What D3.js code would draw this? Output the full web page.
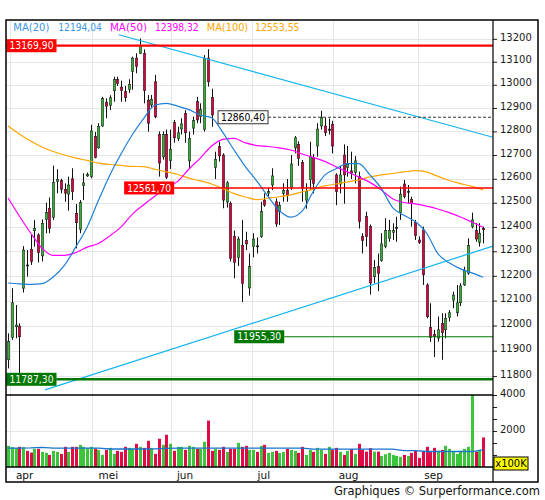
<!DOCTYPE html>
<html>
<head>
<meta charset="utf-8">
<script src="https://cdn.jsdelivr.net/npm/d3@7"></script>
<style>
  body { margin: 0; background: #fff; }
  svg { display: block; }
  text { font-family: "DejaVu Sans", Verdana, sans-serif; }
</style>
</head>
<body>
<svg width="545" height="500"></svg>
<script>
// daily candles (index 0 = first visible session)
const opens = [11864,11953,11995,11998,12150,12244,12308,12384,12367,12281,12431,12477,12440,12589,12592,12556,12536,12600,12456,12390,
  12571,12612,12609,12778,12730,12823,12925,12912,12974,13024,12990,12970,12980,13058,13116,13137,13137,12934,12913,13013,
  12787,12692,12787,12676,12838,12769,12810,12877,12675,12814,12927,12863,12808,13116,12945,12648,12735,12700,12503,12497,
  12360,12275,12325,12345,12151,12319,12322,12360,12511,12540,12574,12504,12463,12539,12550,12565,12730,12745,12668,12511,
  12596,12690,12738,12823,12823,12805,12830,12616,12578,12700,12647,12633,12627,12609,12360,12442,12401,12196,12237,12262,
  12319,12353,12378,12394,12459,12578,12544,12514,12418,12346,12388,12163,11992,11965,11950,12009,11983,12033,12102,12051,
  12091,12163,12211,12401,12385,12336,12394];
const highs = [11969,12150,12082,12009,12321,12305,12367,12429,12374,12431,12500,12522,12655,12640,12600,12581,12609,12644,12495,12511,
  12623,12626,12828,12798,12835,12948,12941,12955,13035,13035,13018,12995,13024,13122,13137,13202,13154,12956,12956,13043,
  12800,12800,12808,12808,12849,12820,12856,12891,12799,12863,12948,12920,13129,13155,12983,12714,12756,12707,12590,12505,
  12385,12360,12429,12380,12291,12374,12357,12504,12539,12560,12644,12518,12504,12581,12599,12700,12780,12758,12679,12581,
  12756,12704,12835,12888,12858,12855,12845,12623,12654,12745,12738,12714,12696,12630,12374,12463,12410,12264,12291,12374,
  12436,12429,12415,12442,12567,12595,12574,12525,12429,12361,12401,12170,12089,11983,12036,12049,12049,12062,12136,12163,
  12170,12237,12353,12459,12415,12415,12401];
const lows = [11830,11943,11949,11787.3,12132,12197,12244,12319,12254,12258,12374,12374,12429,12539,12539,12504,12467,12511,12312,12374,
  12511,12608,12602,12686,12727,12820,12856,12891,12927,12995,12927,12927,12965,12979,13050,13134,12920,12799,12899,12856,
  12609,12680,12599,12641,12752,12759,12787,12752,12641,12787,12835,12835,12799,12992,12820,12599,12672,12477,12480,12258,
  12190,12240,12094,12305,12120,12275,12291,12355,12483,12525,12553,12400,12408,12504,12504,12553,12707,12654,12504,12475,
  12553,12539,12693,12808,12780,12787,12707,12490,12539,12496,12609,12599,12581,12393,12291,12319,12124,12170,12138,12257,
  12312,12339,12346,12339,12429,12518,12497,12401,12346,12330,12163,12029,11935,11875,11936,11864,11950,12016,12069,12036,
  12078,12159,12204,12394,12339,12319,12332];
const closes = [11936,12091,12002,11955,12305,12240,12258,12394,12294,12415,12459,12394,12584,12597,12556,12540,12574,12546,12417,12500,
  12583,12618,12802,12690,12820,12941,12908,12944,13024,13006,12975,12944,13002,13116,13080,13169.9,12975,12835,12937,12862,
  12666,12787,12606,12724,12773,12794,12832,12794,12769,12846,12849,12894,13116,13013,12870,12682,12696,12511,12583,12271,
  12255,12350,12169,12330,12237,12350,12318,12463,12490,12546,12612,12412,12490,12550,12532,12662,12773,12686,12560,12548,
  12693,12581,12810,12860.4,12794,12810,12738,12546,12616,12616,12661,12624,12675,12422,12344,12360,12171,12234,12210,12330,
  12385,12385,12385,12398,12536,12525,12548,12497,12364,12336,12204,12035,11953,11957,11983,11972,12029,12051,12122,12091,
  12159,12221,12324,12429,12350,12374,12388];
// volume in units of 100K
const volumes = [1176,1103,1047,1120,1103,896,801,1008,1008,840,784,672,896,840,728,1120,840,1120,1120,1232,
  1120,1064,1120,1025,952,672,952,1064,728,896,840,1120,1064,1008,1288,1120,1064,1456,1064,728,
  1568,1232,1792,1288,896,1120,1120,952,1176,1120,1008,1008,1400,2576,896,1008,952,1120,840,1008,
  1008,1344,1120,1176,952,952,840,1176,1232,784,840,896,784,840,1008,952,896,784,1120,672,
  952,840,1064,952,728,1120,952,1064,840,672,896,990,728,1288,952,857,1045,857,857,616,
  709,784,672,616,560,672,616,784,896,504,857,1120,857,1064,896,952,1176,1008,857,728,
  896,1008,1120,4200,857,952,1641];

// moving averages, read every third session
const maIdx = [0,3,6,9,12,15,18,21,24,27,30,33,36,39,42,45,48,51,54,57,60,63,66,69,72,75,78,81,84,87,90,93,96,99,102,105,108,111,114,117,120,123,126];
const ma20 = [12171,12167,12165,12168,12195,12243,12318,12400,12510,12615,12705,12787,12856,12913,12920,12908,12893,12870,12858,12795,
  12720,12650,12590,12525,12467,12440,12465,12548,12615,12642,12664,12664,12616,12560,12480,12448,12422,12375,12290,12253,12228,12212,12194.04];
const ma50 = [12520,12445,12375,12313,12283,12283,12295,12317,12332,12363,12400,12453,12492,12528,12561,12589,12641,12687,12738,12766,
  12770,12751,12740,12736,12730,12721,12704,12690,12673,12650,12629,12608,12585,12553,12517,12501,12495,12486,12474,12459,12441,12420,12398.32];
const ma100 = [12823,12789,12759,12734,12715,12700,12687,12677,12666,12660,12656,12652,12651,12640,12629,12618,12603,12591,12578,12559,
  12538,12524,12513,12519,12525,12533,12545,12557,12570,12578,12587,12595,12608,12616,12622,12629,12634,12629,12610,12593,12580,12568,12553.55];
const volMa = [1050,1050,1060,1090,1050,1050,1050,1050,1045,1000,1000,1000,1000,1010,1040,1045,1045,1045,1045,1045,
  1045,1045,1045,1045,1045,1045,1045,990,990,990,990,990,990,990,990,915,915,860,860,860,860,860,950];

const priceTicks = [11800,11900,12000,12100,12200,12300,12400,12500,12600,12700,12800,12900,13000,13100,13200];
const volTicks = [2000,4000];
const volMinorTicks = [667,1333,2667,3333];
const monthLabels = ["apr","mei","jun","jul","aug","sep"];
const monthPos = [0.5,22.4,43.2,64.6,86.1,108.8];

// marked levels and where their label sits (session index, null = left edge)
const levelValues = [13169.9,12860.4,12561.7,11955.3,11787.3];
const levelFrom = [null,55.7,30.8,60,null];
// trend lines as [session, price]
const trendA = [[29.4,13218],[128.6,12775]];
const trendB = [[9.8,11746],[128.6,12321]];

const svg = d3.select("svg");
const L = 6, R = 493, T = 20, PB = 395, VB = 467, OB = 482, OR = 538;
const GREEN = "#3aad3a", RED = "#d6063f", VGREEN = "#3cc43c", VRED = "#de0b46";

const x = d3.scaleLinear().domain([0, 126]).range([8, 483.1]);
const y = d3.scaleLog().domain([11726, 13283]).range([PB, T]);
const yv = d3.scaleLinear().domain([0, 4000]).range([VB, PB]);
const fmt = v => d3.format(".2f")(v).replace(".", ",");

const defs = svg.append("defs");
defs.append("clipPath").attr("id", "clipP").append("rect")
  .attr("x", L).attr("y", T).attr("width", R - L).attr("height", PB - T);
defs.append("clipPath").attr("id", "clipV").append("rect")
  .attr("x", L).attr("y", PB).attr("width", R - L).attr("height", VB - PB);

// grid
const grid = svg.append("g").attr("stroke", "#e6e6e6").attr("stroke-width", 1);
grid.selectAll(".hg").data(priceTicks).enter().append("line")
  .attr("x1", L).attr("x2", R)
  .attr("y1", d => Math.round(y(d)) + 0.5).attr("y2", d => Math.round(y(d)) + 0.5);
grid.append("line").attr("x1", L).attr("x2", R)
  .attr("y1", Math.round(yv(2000)) + 0.5).attr("y2", Math.round(yv(2000)) + 0.5);
grid.selectAll(".vg").data(monthPos).enter().append("line")
  .attr("x1", d => Math.round(x(d)) + 0.5).attr("x2", d => Math.round(x(d)) + 0.5)
  .attr("y1", T).attr("y2", VB);

const candles = opens.map((o, i) => ({ i, o, h: highs[i], l: lows[i], c: closes[i], v: volumes[i] }));

// candles
const cg = svg.append("g").attr("clip-path", "url(#clipP)");
const cs = cg.selectAll("g").data(candles).enter().append("g");
cs.append("line")
  .attr("x1", d => Math.round(x(d.i)) + 0.5).attr("x2", d => Math.round(x(d.i)) + 0.5)
  .attr("y1", d => y(d.h)).attr("y2", d => y(d.l))
  .attr("stroke", "#111").attr("stroke-width", 1);
cs.append("rect")
  .attr("x", d => Math.round(x(d.i)) - 0.75).attr("width", 2.5)
  .attr("y", d => y(Math.max(d.o, d.c)))
  .attr("height", d => Math.max(1, y(Math.min(d.o, d.c)) - y(Math.max(d.o, d.c))))
  .attr("fill", d => Math.abs(d.c - d.o) < 6 ? "#222" : (d.c >= d.o ? GREEN : RED))
  .attr("stroke", "#1a1a1a").attr("stroke-width", 0.5);

// moving averages
const maLine = d3.line().x((d, k) => x(maIdx[k])).y(d => y(d)).curve(d3.curveMonotoneX);
const maG = svg.append("g").attr("clip-path", "url(#clipP)").attr("fill", "none");
maG.append("path").datum(ma100).attr("d", maLine).attr("stroke", "#ffa500").attr("stroke-width", 1.2);
maG.append("path").datum(ma50).attr("d", maLine).attr("stroke", "#ff00ff").attr("stroke-width", 1.2);
maG.append("path").datum(ma20).attr("d", maLine).attr("stroke", "#1f7fd8").attr("stroke-width", 1.2);

// trend lines
const tLine = d3.line().x(d => x(d[0])).y(d => y(d[1]));
maG.selectAll(".trend").data([trendA, trendB]).enter().append("path")
  .attr("d", tLine).attr("stroke", "#14b4f0").attr("stroke-width", 1.2);

// marked levels
const levelStyle = [
  { c: "#ff0000", w: 2.2, box: "#ff0000", txt: "#fff" },
  { c: "#333", w: 1, dash: "3,2", box: "#fff", txt: "#000", border: "#333" },
  { c: "#ff0000", w: 1.4, box: "#ff0000", txt: "#fff" },
  { c: "#007800", w: 1.2, box: "#007800", txt: "#fff" },
  { c: "#007800", w: 2.6, box: "#007800", txt: "#fff" }
];
const lv = svg.append("g");
levelValues.forEach((v, k) => {
  const s = levelStyle[k];
  const lx = levelFrom[k] == null ? L + 0.5 : x(levelFrom[k]);
  const ly = y(v);
  lv.append("line").attr("x1", lx + 50).attr("x2", R).attr("y1", ly).attr("y2", ly)
    .attr("stroke", s.c).attr("stroke-width", s.w).attr("stroke-dasharray", s.dash || null);
  if (levelFrom[k] == null)
    lv.append("line").attr("x1", L).attr("x2", lx + 50).attr("y1", ly).attr("y2", ly)
      .attr("stroke", s.c).attr("stroke-width", s.w);
  lv.append("rect").attr("x", lx).attr("y", ly - 6.5).attr("width", 50).attr("height", 13)
    .attr("fill", s.box).attr("stroke", s.border || "none").attr("stroke-width", 1);
  lv.append("text").attr("x", lx + 25).attr("y", ly).attr("dy", "0.36em")
    .attr("text-anchor", "middle").attr("font-size", "10px").attr("fill", s.txt)
    .attr("textLength", 44).attr("lengthAdjust", "spacingAndGlyphs")
    .text(fmt(v));
});

// volume
const vg = svg.append("g").attr("clip-path", "url(#clipV)");
vg.selectAll("rect").data(candles).enter().append("rect")
  .attr("x", d => Math.round(x(d.i)) - 1).attr("width", 3)
  .attr("y", d => yv(d.v)).attr("height", d => VB - yv(d.v))
  .attr("fill", d => d.c >= d.o ? VGREEN : VRED);
vg.append("path").datum(volMa)
  .attr("d", d3.line().x((d, k) => x(maIdx[k])).y(d => yv(d)))
  .attr("fill", "none").attr("stroke", "#1874cd").attr("stroke-width", 1.3);

// right axes
svg.append("g").attr("transform", `translate(${R},0)`)
  .call(d3.axisRight(y).tickValues(priceTicks).tickFormat(d3.format("d")).tickSize(4).tickPadding(3));
svg.append("g").attr("transform", `translate(${R},0)`)
  .call(d3.axisRight(yv).tickValues(volTicks).tickFormat(d3.format("d")).tickSize(4).tickPadding(3));
svg.append("g").attr("transform", `translate(${R},0)`)
  .call(d3.axisRight(yv).tickValues(volMinorTicks).tickFormat("").tickSize(4));
svg.selectAll(".domain").remove();
svg.selectAll(".tick line").attr("stroke", "#222");
svg.selectAll(".tick text").attr("font-family", "DejaVu Sans, Verdana, sans-serif")
  .attr("font-size", "10px").attr("fill", "#1a1a1a").attr("y", -2);

// x100K tag
svg.append("rect").attr("x", R + 1).attr("y", 457).attr("width", 34).attr("height", 13)
  .attr("fill", "#ffff00").attr("stroke", "#000").attr("stroke-width", 1);
svg.append("text").attr("x", R + 18).attr("y", 463.5).attr("dy", "0.36em")
  .attr("text-anchor", "middle").attr("font-size", "10px").attr("fill", "#000").text("x100K");

// month labels
svg.selectAll(".mlab").data(monthLabels).enter().append("text")
  .attr("x", (d, k) => x(monthPos[k]) + 6).attr("y", 478.5)
  .attr("font-size", "10.5px").attr("fill", "#111").text(d => d);

// frames
const fr = svg.append("g").attr("fill", "none").attr("stroke", "#000");
fr.append("rect").attr("x", L).attr("y", T).attr("width", OR - L).attr("height", OB - T).attr("stroke-width", 1.5);
fr.append("line").attr("x1", R).attr("x2", R).attr("y1", T).attr("y2", OB).attr("stroke-width", 1.2);
fr.append("line").attr("x1", L).attr("x2", R).attr("y1", PB).attr("y2", PB).attr("stroke-width", 1.5);
fr.append("line").attr("x1", L).attr("x2", R).attr("y1", VB).attr("y2", VB).attr("stroke-width", 1.5);

// legend
const legend = [
  { t: "MA(20)", x: 13.3, w: 36, c: "#3d95e8" }, { t: fmt(ma20[ma20.length - 1]), x: 58.3, w: 43.5, c: "#3d95e8" },
  { t: "MA(50)", x: 110, w: 37, c: "#ff00ff" }, { t: fmt(ma50[ma50.length - 1]), x: 155, w: 43.5, c: "#ff00ff" },
  { t: "MA(100)", x: 206.7, w: 41.5, c: "#ffa500" }, { t: fmt(ma100[ma100.length - 1]), x: 255, w: 44.5, c: "#ffa500" }
];
svg.selectAll(".leg").data(legend).enter().append("text")
  .attr("x", d => d.x).attr("y", 30.6).attr("font-size", "10px")
  .attr("textLength", d => d.w).attr("lengthAdjust", "spacingAndGlyphs")
  .attr("fill", d => d.c).text(d => d.t);

// footer
svg.append("text").attr("x", 540).attr("y", 495).attr("text-anchor", "end")
  .attr("font-family", "Liberation Sans, Arial, sans-serif").attr("font-size", "11.5px")
  .attr("fill", "#111").text("Graphiques © Surperformance.com");
</script>
</body>
</html>
